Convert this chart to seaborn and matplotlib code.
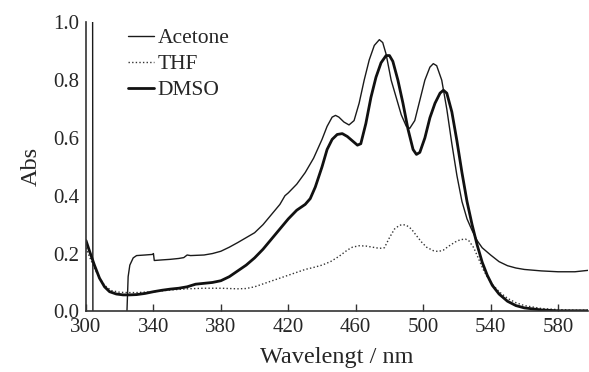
import numpy as np
import pandas as pd
import matplotlib
matplotlib.use("Agg")
import matplotlib.pyplot as plt
import seaborn as sns

# ---- data ----
acetone_x = [300, 303.9, 304.1, 324, 325, 326, 328, 330, 335, 339.5, 340, 340.5, 345, 350, 355, 358,
             360, 362, 370, 375, 380, 385, 390, 395, 400, 405, 410, 415, 418, 420, 425, 430, 435,
             440, 443, 446, 448, 450, 453, 456, 459, 462, 465, 468, 471, 474, 476, 478, 481, 484,
             487, 490, 492, 495, 498, 501, 504, 506, 508, 511, 514, 517, 520, 523, 526, 529, 532,
             535, 540, 545, 550, 555, 560, 570, 580, 590, 598]
acetone_y = [1.2, 1.2, -0.05, -0.05, 0.12, 0.16, 0.185, 0.193, 0.195, 0.197, 0.2, 0.176, 0.178, 0.18,
             0.183, 0.186, 0.195, 0.193, 0.195, 0.2, 0.208, 0.222, 0.238, 0.255, 0.272, 0.30, 0.335,
             0.37, 0.40, 0.41, 0.44, 0.48, 0.53, 0.595, 0.64, 0.672, 0.678, 0.672, 0.655, 0.645,
             0.66, 0.72, 0.80, 0.87, 0.92, 0.94, 0.93, 0.89, 0.80, 0.74, 0.68, 0.64, 0.633, 0.66,
             0.73, 0.80, 0.845, 0.857, 0.85, 0.80, 0.70, 0.58, 0.47, 0.38, 0.32, 0.28, 0.245,
             0.22, 0.195, 0.172, 0.158, 0.150, 0.145, 0.14, 0.137, 0.137, 0.142]

thf_x = [300, 302, 305, 308, 311, 315, 320, 325, 330, 340, 350, 360, 370, 380, 390, 395, 400, 405,
         410, 415, 420, 425, 430, 435, 440, 445, 450, 455, 458, 462, 466, 470, 474, 477, 480, 483,
         486, 488, 490, 493, 496, 499, 502, 506, 509, 512, 515, 519, 522, 525, 527, 530, 533, 536,
         540, 545, 550, 555, 560, 570, 580, 590, 598]
thf_y = [0.22, 0.19, 0.15, 0.115, 0.09, 0.072, 0.066, 0.065, 0.065, 0.068, 0.074, 0.078, 0.08, 0.08,
         0.078, 0.079, 0.085, 0.095, 0.105, 0.115, 0.125, 0.135, 0.145, 0.152, 0.16, 0.172, 0.19,
         0.212, 0.222, 0.227, 0.226, 0.222, 0.218, 0.22, 0.255, 0.285, 0.298, 0.30, 0.298, 0.285,
         0.262, 0.24, 0.222, 0.21, 0.207, 0.212, 0.225, 0.24, 0.248, 0.25, 0.245, 0.22, 0.18,
         0.14, 0.10, 0.068, 0.045, 0.03, 0.02, 0.01, 0.006, 0.004, 0.004]

dmso_x = [300, 302, 305, 308, 311, 314, 318, 322, 326, 330, 335, 340, 345, 350, 355, 360, 365, 370,
          375, 380, 385, 390, 395, 400, 405, 410, 415, 420, 425, 430, 433, 436, 440, 443, 446, 449,
          452, 455, 458, 461, 463, 466, 469, 472, 475, 478, 480, 482, 485, 488, 491, 494, 496, 498,
          501, 504, 507, 510, 512, 514, 517, 520, 523, 526, 529, 532, 535, 538, 541, 545, 550, 555,
          560, 570, 580, 598]
dmso_y = [0.245, 0.21, 0.16, 0.115, 0.085, 0.068, 0.06, 0.057, 0.057, 0.058, 0.062, 0.068, 0.073,
          0.077, 0.08, 0.085, 0.094, 0.097, 0.1, 0.106, 0.12, 0.14, 0.16, 0.185, 0.215, 0.25,
          0.285, 0.32, 0.35, 0.37, 0.39, 0.43, 0.50, 0.56, 0.595, 0.612, 0.615, 0.605, 0.59, 0.575,
          0.58, 0.65, 0.74, 0.81, 0.86, 0.885, 0.885, 0.865, 0.80, 0.72, 0.63, 0.56, 0.543, 0.55,
          0.60, 0.67, 0.72, 0.755, 0.765, 0.755, 0.69, 0.59, 0.48, 0.38, 0.30, 0.23, 0.17, 0.125,
          0.09, 0.06, 0.035, 0.02, 0.012, 0.005, 0.002, 0.002]

x_ticks = [300, 340, 380, 420, 460, 500, 540, 580]
y_ticks = [0.0, 0.2, 0.4, 0.6, 0.8, 1.0]

sns.set_style("white")
plt.rcParams["font.family"] = ["Liberation Serif", "DejaVu Serif"]
plt.rcParams["font.size"] = 15

fig = plt.figure(figsize=(5.89, 3.72), dpi=100)
ax = fig.add_axes([0.146, 0.163, 0.853, 0.777])

sns.lineplot(x=acetone_x, y=acetone_y, ax=ax, sort=False, estimator=None, color="#1a1a1a",
             lw=1.0, label="Acetone")
sns.lineplot(x=thf_x, y=thf_y, ax=ax, sort=False, estimator=None, color="#333333",
             lw=1.0, linestyle=(0, (1, 1.6)), label="THF")
sns.lineplot(x=dmso_x, y=dmso_y, ax=ax, sort=False, estimator=None, color="#111111",
             lw=2.0, label="DMSO")

ax.set_xlim(300, 598)
ax.set_ylim(0, 1.0)
ax.set_xticks(x_ticks)
ax.set_xticklabels([str(t) for t in x_ticks], fontsize=15)
ax.set_yticks(y_ticks)
ax.set_yticklabels([f"{t:.1f}" for t in y_ticks], fontsize=15)
ax.tick_params(axis="x", bottom=True, direction="in", length=5, width=1, color="#333333", pad=5)
ax.tick_params(axis="y", left=True, direction="in", length=0, pad=5)
for s in ["top", "right"]:
    ax.spines[s].set_visible(False)
for s in ["left", "bottom"]:
    ax.spines[s].set_color("#333333")
    ax.spines[s].set_linewidth(1.2)

ax.set_xlabel("Wavelengt / nm", fontsize=17.5, labelpad=7)
ax.set_ylabel("Abs", fontsize=17.5, labelpad=8)

leg = ax.legend(loc="upper left", bbox_to_anchor=(0.066, 1.01), frameon=False, fontsize=15.5,
                handlelength=1.2, handletextpad=0.2, labelspacing=0.28, borderaxespad=0)

fig.savefig("out.png", dpi=100)
